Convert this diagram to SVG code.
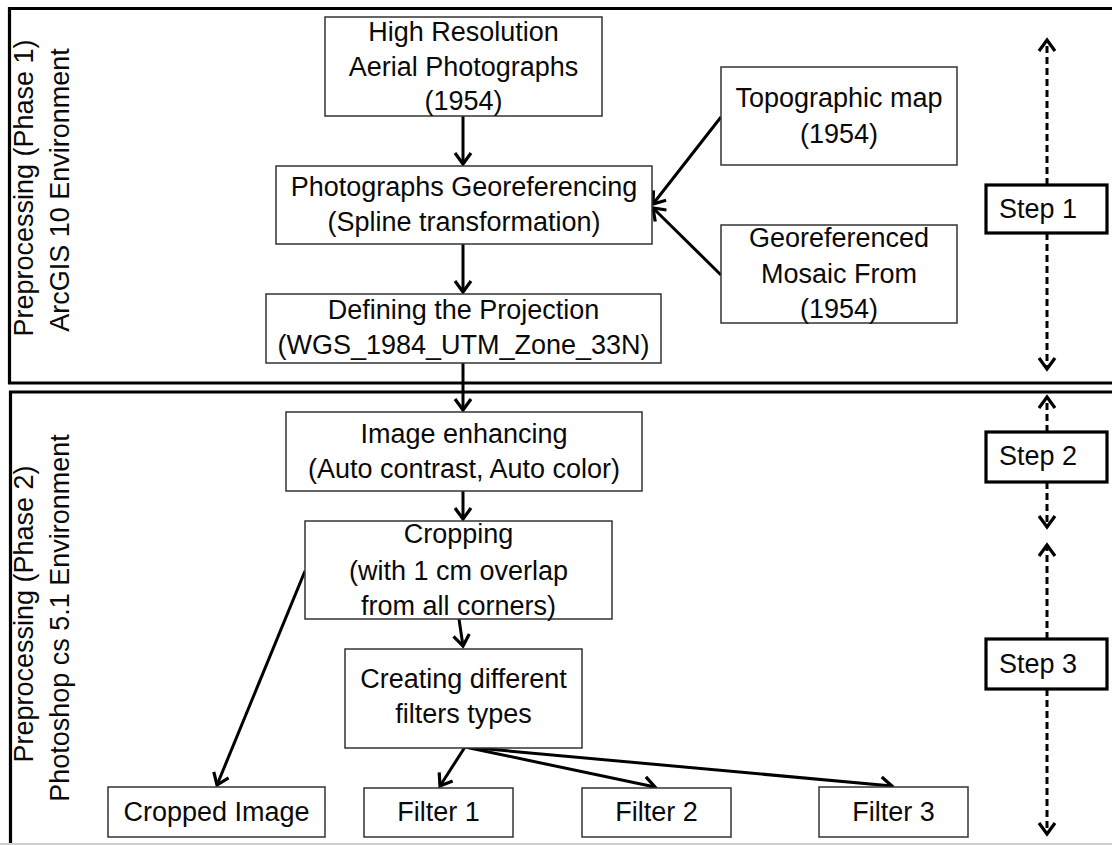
<svg xmlns="http://www.w3.org/2000/svg" width="1112" height="845" viewBox="0 0 1112 845">
  <style>
    text { font-family: "Liberation Sans", Arial, sans-serif; font-size: 27px; fill: #0a0a0a; }
    .c { text-anchor: middle; }
    .box { fill: #fff; stroke: #333; stroke-width: 1.5; }
    .step { fill: #fff; stroke: #000; stroke-width: 3.2; }
    .frame { fill: none; stroke: #000; stroke-width: 3.2; }
    .link { fill: none; stroke: #000; stroke-width: 3; marker-end: url(#ah); }
    .dash { fill: none; stroke: #000; stroke-width: 3; stroke-dasharray: 7 4; marker-end: url(#ah); }
  </style>
  <defs>
    <marker id="ah" viewBox="-3 -3 18 22" refX="12" refY="8" markerWidth="18" markerHeight="22" markerUnits="userSpaceOnUse" orient="auto">
      <path d="M1,0 L12,8 L1,16" fill="none" stroke="#000" stroke-width="3.2" stroke-dasharray="none"/>
    </marker>
  </defs>

  <rect width="1112" height="845" fill="#fff"/>

  <!-- phase frames -->
  <g id="frames">
    <path class="frame" d="M1116,8.5 H9.5 V383 H1116"/>
    <path class="frame" d="M1116,392 H10.5 V848"/>
    <line x1="0" y1="844" x2="1112" y2="844" stroke="#cfcfcf" stroke-width="2"/>
  </g>

  <!-- phase labels -->
  <g id="phase1-label">
    <text class="c" transform="translate(33,188) rotate(-90)">Preprocessing (Phase 1)</text>
    <text class="c" transform="translate(69,190) rotate(-90)">ArcGIS 10 Environment</text>
  </g>
  <g id="phase2-label">
    <text class="c" transform="translate(33,614) rotate(-90)">Preprocessing (Phase 2)</text>
    <text class="c" transform="translate(69,618) rotate(-90)">Photoshop cs 5.1 Environment</text>
  </g>

  <!-- connectors -->
  <g id="connectors">
    <line class="link" x1="463" y1="116" x2="463" y2="164"/>
    <line class="link" x1="721" y1="117" x2="653" y2="204"/>
    <line class="link" x1="721" y1="275" x2="653" y2="208"/>
    <line class="link" x1="463" y1="244" x2="463" y2="292"/>
    <line class="link" x1="463" y1="363" x2="463" y2="410"/>
    <line class="link" x1="463" y1="491" x2="463" y2="519"/>
    <line class="link" x1="459" y1="619" x2="463" y2="646"/>
    <line class="link" x1="305" y1="571" x2="217" y2="785"/>
    <line class="link" x1="465" y1="747" x2="440" y2="786"/>
    <line class="link" x1="465" y1="747" x2="655" y2="787"/>
    <line class="link" x1="465" y1="747" x2="892" y2="786"/>
    <!-- step extents -->
    <line class="dash" x1="1047" y1="185" x2="1047" y2="40"/>
    <line class="dash" x1="1047" y1="233" x2="1047" y2="369"/>
    <line class="dash" x1="1047" y1="432" x2="1047" y2="397"/>
    <line class="dash" x1="1047" y1="482" x2="1047" y2="527"/>
    <line class="dash" x1="1047" y1="639" x2="1047" y2="545"/>
    <line class="dash" x1="1047" y1="689" x2="1047" y2="834"/>
  </g>

  <!-- phase 1 nodes -->
  <g id="aerial-photos">
    <rect class="box" x="325" y="17" width="277" height="99"/>
    <text class="c" x="463.5" y="41">High Resolution</text>
    <text class="c" x="463.5" y="76">Aerial Photographs</text>
    <text class="c" x="463.5" y="110">(1954)</text>
  </g>
  <g id="georeferencing">
    <rect class="box" x="276" y="166" width="376" height="78"/>
    <text class="c" x="464" y="196">Photographs Georeferencing</text>
    <text class="c" x="464" y="231">(Spline transformation)</text>
  </g>
  <g id="projection">
    <rect class="box" x="266" y="294" width="395" height="69"/>
    <text class="c" x="463.5" y="319">Defining the Projection</text>
    <text class="c" x="463.5" y="354">(WGS_1984_UTM_Zone_33N)</text>
  </g>
  <g id="topo-map">
    <rect class="box" x="721" y="67" width="236" height="98"/>
    <text class="c" x="839" y="107">Topographic map</text>
    <text class="c" x="839" y="143">(1954)</text>
  </g>
  <g id="mosaic">
    <rect class="box" x="721" y="225" width="236" height="98"/>
    <text class="c" x="839" y="247">Georeferenced</text>
    <text class="c" x="839" y="283">Mosaic From</text>
    <text class="c" x="839" y="318">(1954)</text>
  </g>

  <!-- phase 2 nodes -->
  <g id="enhancing">
    <rect class="box" x="286" y="412" width="356" height="79"/>
    <text class="c" x="464" y="443">Image enhancing</text>
    <text class="c" x="464" y="478">(Auto contrast, Auto color)</text>
  </g>
  <g id="cropping">
    <rect class="box" x="305" y="521" width="307" height="98"/>
    <text class="c" x="458.5" y="543">Cropping</text>
    <text class="c" x="458.5" y="580">(with 1 cm overlap</text>
    <text class="c" x="458.5" y="615">from all corners)</text>
  </g>
  <g id="filters">
    <rect class="box" x="345" y="649" width="237" height="99"/>
    <text class="c" x="463.5" y="688">Creating different</text>
    <text class="c" x="463.5" y="723">filters types</text>
  </g>
  <g id="cropped-image">
    <rect class="box" x="108" y="787" width="217" height="50"/>
    <text class="c" x="216.5" y="821">Cropped Image</text>
  </g>
  <g id="filter-1">
    <rect class="box" x="364" y="788" width="149" height="49"/>
    <text class="c" x="438.5" y="821">Filter 1</text>
  </g>
  <g id="filter-2">
    <rect class="box" x="582" y="788" width="149" height="49"/>
    <text class="c" x="656.5" y="821">Filter 2</text>
  </g>
  <g id="filter-3">
    <rect class="box" x="819" y="787" width="149" height="50"/>
    <text class="c" x="893.5" y="821">Filter 3</text>
  </g>

  <!-- step markers -->
  <g id="step-1">
    <rect class="step" x="986" y="185" width="121" height="48"/>
    <text x="999" y="218">Step 1</text>
  </g>
  <g id="step-2">
    <rect class="step" x="986" y="432" width="121" height="50"/>
    <text x="999" y="465">Step 2</text>
  </g>
  <g id="step-3">
    <rect class="step" x="986" y="639" width="121" height="50"/>
    <text x="999" y="673">Step 3</text>
  </g>
</svg>
